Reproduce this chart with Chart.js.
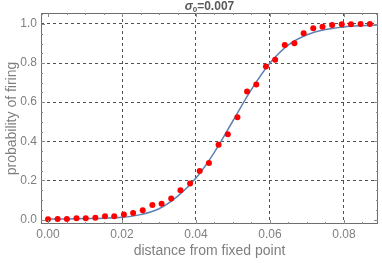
<!DOCTYPE html>
<html>
<head>
<meta charset="utf-8">
<script src="https://cdn.jsdelivr.net/npm/chart.js@4"></script>
<style>
html,body{margin:0;padding:0;background:#fff;}
#wrap{width:382px;height:263px;position:relative;}
</style>
</head>
<body>
<div id="wrap"><canvas id="c" width="382" height="263"></canvas></div>
<script>
const titleSymbol = "σ";
const titleSub = "0";
const titleRest = "=0.007";
const xTitle = "distance from fixed point";
const yTitle = "probability of firing";
const xTicks = [0, 0.02, 0.04, 0.06, 0.08];
const yTicks = [0, 0.2, 0.4, 0.6, 0.8, 1.0];
const sampleX = [0, 0.0026, 0.0051, 0.0077, 0.0102, 0.0128, 0.0154, 0.0179, 0.0205, 0.023,
  0.0256, 0.0282, 0.0307, 0.0333, 0.0358, 0.0384, 0.041, 0.0435, 0.0461, 0.0486,
  0.0512, 0.0538, 0.0563, 0.0589, 0.0614, 0.064, 0.0666, 0.0691, 0.0717, 0.0742,
  0.0768, 0.0794, 0.0819, 0.0845, 0.087];
const sampleY = [0.001, 0.003, 0.003, 0.006, 0.006, 0.009, 0.016, 0.016, 0.026, 0.033,
  0.047, 0.074, 0.081, 0.108, 0.149, 0.184, 0.248, 0.289, 0.382, 0.436,
  0.523, 0.655, 0.691, 0.783, 0.817, 0.892, 0.901, 0.952, 0.978, 0.986,
  0.995, 0.998, 0.998, 1.0, 1.0];
const curveX = [0, 0.005, 0.01, 0.015, 0.02, 0.025, 0.03, 0.035, 0.04, 0.045,
  0.05, 0.055, 0.06, 0.065, 0.07, 0.075, 0.08, 0.085, 0.089];
const curveY = [0.002, 0.003, 0.005, 0.007, 0.011, 0.025, 0.055, 0.118, 0.212, 0.345,
  0.505, 0.665, 0.800, 0.893, 0.945, 0.972, 0.985, 0.991, 0.994];

const FONT = "'Liberation Sans', Arial, sans-serif";
const textGray = '#7f7f7f';

const framePlugin = {
  id: 'frame',
  afterDraw(chart) {
    const ctx = chart.ctx, a = chart.chartArea;
    const xs = chart.scales.x, ys = chart.scales.y;
    ctx.save();
    ctx.strokeStyle = '#6e6e6e';
    ctx.lineWidth = 1;
    ctx.strokeRect(Math.round(a.left) + 0.5, Math.round(a.top) + 0.5,
      Math.round(a.right - a.left) - 1, Math.round(a.bottom - a.top) - 1);
    ctx.strokeStyle = '#8a8a8a';
    ctx.beginPath();
    for (let i = 0; i <= 18; i++) {
      const v = i * 0.005;
      const px = Math.round(xs.getPixelForValue(v)) + 0.5;
      if (px < a.left || px > a.right) continue;
      const len = (i % 4 === 0) ? 4 : 2;
      ctx.moveTo(px, a.bottom); ctx.lineTo(px, a.bottom - len);
      ctx.moveTo(px, a.top); ctx.lineTo(px, a.top + len);
    }
    for (let i = 0; i <= 21; i++) {
      const v = i * 0.05;
      const py = Math.round(ys.getPixelForValue(v)) + 0.5;
      if (py < a.top || py > a.bottom) continue;
      const len = (i % 4 === 0) ? 4 : 2;
      ctx.moveTo(a.left, py); ctx.lineTo(a.left + len, py);
      ctx.moveTo(a.right, py); ctx.lineTo(a.right - len, py);
    }
    ctx.stroke();
    // title centred over the plot area: italic sigma, subscript 0, bold rest
    const fSym = "italic bold 12px " + FONT;
    const fSub = "bold 8px " + FONT;
    const fRest = "bold 12px " + FONT;
    ctx.font = fSym; const w1 = ctx.measureText(titleSymbol).width;
    ctx.font = fSub; const w2 = ctx.measureText(titleSub).width;
    ctx.font = fRest; const w3 = ctx.measureText(titleRest).width;
    let x0 = (a.left + a.right) / 2 - (w1 + w2 + w3) / 2;
    const base = 10;
    ctx.fillStyle = '#5a5a5a';
    ctx.textAlign = 'left';
    ctx.textBaseline = 'alphabetic';
    ctx.font = fSym; ctx.fillText(titleSymbol, x0, base); x0 += w1;
    ctx.font = fSub; ctx.fillText(titleSub, x0, base + 2); x0 += w2;
    ctx.font = fRest; ctx.fillText(titleRest, x0, base);
    ctx.restore();
  }
};

new Chart(document.getElementById('c'), {
  type: 'scatter',
  data: {
    datasets: [
      {
        label: 'samples',
        data: sampleX.map((x, i) => ({x: x, y: sampleY[i]})),
        backgroundColor: '#ff0000',
        borderColor: '#ff0000',
        pointRadius: 3,
        borderWidth: 0,
        showLine: false
      },
      {
        label: 'fit',
        data: curveX.map((x, i) => ({x: x, y: curveY[i]})),
        showLine: true,
        borderColor: '#5e81b5',
        borderWidth: 1.5,
        pointRadius: 0,
        tension: 0.4,
        cubicInterpolationMode: 'monotone',
        fill: false
      }
    ]
  },
  options: {
    responsive: false,
    animation: false,
    devicePixelRatio: 1,
    layout: {padding: {top: 13, right: 1, left: 0, bottom: 0}},
    plugins: {legend: {display: false}, tooltip: {enabled: false}, title: {display: false}},
    scales: {
      x: {
        type: 'linear',
        min: -0.0019, max: 0.0892,
        afterBuildTicks: s => { s.ticks = xTicks.map(v => ({value: v})); },
        afterFit: s => { s.height = 39; },
        ticks: {
          callback: v => v.toFixed(2),
          color: textGray, font: {family: FONT, size: 12}, padding: 3, maxRotation: 0, autoSkip: false
        },
        grid: {
          drawTicks: false,
          color: c => (c.tick && c.tick.value === 0) ? 'rgba(0,0,0,0)' : '#505050',
          lineWidth: 1
        },
        border: {display: false, dash: [3, 3]},
        title: {display: true, text: xTitle, color: textGray, font: {family: FONT, size: 14}, padding: {top: 0, bottom: 3}}
      },
      y: {
        type: 'linear',
        min: -0.023, max: 1.056,
        afterBuildTicks: s => { s.ticks = yTicks.map(v => ({value: v})); },
        afterFit: s => { s.width = 41; },
        ticks: {
          callback: v => v.toFixed(1),
          color: textGray, font: {family: FONT, size: 12}, padding: 4, autoSkip: false
        },
        grid: {
          drawTicks: false,
          color: c => (c.tick && c.tick.value === 0) ? 'rgba(0,0,0,0)' : '#505050',
          lineWidth: 1
        },
        border: {display: false, dash: [3, 3]},
        title: {display: true, text: yTitle, color: textGray, font: {family: FONT, size: 14}, padding: {top: 4, bottom: 0}}
      }
    }
  },
  plugins: [framePlugin]
});
</script>
</body>
</html>
